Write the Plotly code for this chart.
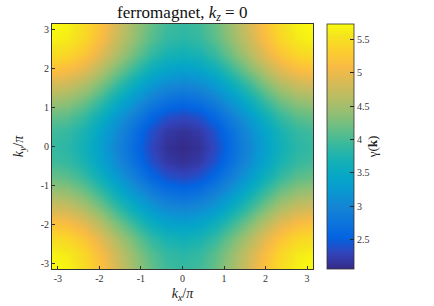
import plotly.graph_objects as go

# grid coordinates (radians)
kx = [-3.1416, -2.7489, -2.3562, -1.9635, -1.5708, -1.1781, -0.7854, -0.3927, 0.0,
      0.3927, 0.7854, 1.1781, 1.5708, 1.9635, 2.3562, 2.7489, 3.1416]
ky = [-3.1416, -2.7489, -2.3562, -1.9635, -1.5708, -1.1781, -0.7854, -0.3927, 0.0,
      0.3927, 0.7854, 1.1781, 1.5708, 1.9635, 2.3562, 2.7489, 3.1416]

# gamma(k) values (rows = ky, cols = kx)
gamma = [
    [5.74, 5.67, 5.47, 5.17, 4.82, 4.47, 4.17, 3.97, 3.90, 3.97, 4.17, 4.47, 4.82, 5.17, 5.47, 5.67, 5.74],
    [5.67, 5.60, 5.40, 5.10, 4.75, 4.40, 4.10, 3.90, 3.83, 3.90, 4.10, 4.40, 4.75, 5.10, 5.40, 5.60, 5.67],
    [5.47, 5.40, 5.20, 4.90, 4.55, 4.20, 3.90, 3.70, 3.63, 3.70, 3.90, 4.20, 4.55, 4.90, 5.20, 5.40, 5.47],
    [5.17, 5.10, 4.90, 4.60, 4.25, 3.90, 3.60, 3.40, 3.33, 3.40, 3.60, 3.90, 4.25, 4.60, 4.90, 5.10, 5.17],
    [4.82, 4.75, 4.55, 4.25, 3.90, 3.55, 3.25, 3.05, 2.98, 3.05, 3.25, 3.55, 3.90, 4.25, 4.55, 4.75, 4.82],
    [4.47, 4.40, 4.20, 3.90, 3.55, 3.20, 2.90, 2.70, 2.63, 2.70, 2.90, 3.20, 3.55, 3.90, 4.20, 4.40, 4.47],
    [4.17, 4.10, 3.90, 3.60, 3.25, 2.90, 2.60, 2.40, 2.33, 2.40, 2.60, 2.90, 3.25, 3.60, 3.90, 4.10, 4.17],
    [3.97, 3.90, 3.70, 3.40, 3.05, 2.70, 2.40, 2.20, 2.13, 2.20, 2.40, 2.70, 3.05, 3.40, 3.70, 3.90, 3.97],
    [3.90, 3.83, 3.63, 3.33, 2.98, 2.63, 2.33, 2.13, 2.06, 2.13, 2.33, 2.63, 2.98, 3.33, 3.63, 3.83, 3.90],
    [3.97, 3.90, 3.70, 3.40, 3.05, 2.70, 2.40, 2.20, 2.13, 2.20, 2.40, 2.70, 3.05, 3.40, 3.70, 3.90, 3.97],
    [4.17, 4.10, 3.90, 3.60, 3.25, 2.90, 2.60, 2.40, 2.33, 2.40, 2.60, 2.90, 3.25, 3.60, 3.90, 4.10, 4.17],
    [4.47, 4.40, 4.20, 3.90, 3.55, 3.20, 2.90, 2.70, 2.63, 2.70, 2.90, 3.20, 3.55, 3.90, 4.20, 4.40, 4.47],
    [4.82, 4.75, 4.55, 4.25, 3.90, 3.55, 3.25, 3.05, 2.98, 3.05, 3.25, 3.55, 3.90, 4.25, 4.55, 4.75, 4.82],
    [5.17, 5.10, 4.90, 4.60, 4.25, 3.90, 3.60, 3.40, 3.33, 3.40, 3.60, 3.90, 4.25, 4.60, 4.90, 5.10, 5.17],
    [5.47, 5.40, 5.20, 4.90, 4.55, 4.20, 3.90, 3.70, 3.63, 3.70, 3.90, 4.20, 4.55, 4.90, 5.20, 5.40, 5.47],
    [5.67, 5.60, 5.40, 5.10, 4.75, 4.40, 4.10, 3.90, 3.83, 3.90, 4.10, 4.40, 4.75, 5.10, 5.40, 5.60, 5.67],
    [5.74, 5.67, 5.47, 5.17, 4.82, 4.47, 4.17, 3.97, 3.90, 3.97, 4.17, 4.47, 4.82, 5.17, 5.47, 5.67, 5.74],
]

axis_ticks = [-3, -2, -1, 0, 1, 2, 3]
axis_labels = ["-3", "-2", "-1", "0", "1", "2", "3"]
cbar_ticks = [2.5, 3, 3.5, 4, 4.5, 5, 5.5]
cbar_labels = ["2.5", "3", "3.5", "4", "4.5", "5", "5.5"]

parula = [
    [0.0, "rgb(53,42,135)"], [0.0635, "rgb(50,67,186)"], [0.127, "rgb(3,99,225)"],
    [0.1905, "rgb(13,117,220)"], [0.254, "rgb(20,133,212)"], [0.3175, "rgb(9,152,209)"],
    [0.381, "rgb(6,167,198)"], [0.444, "rgb(21,177,180)"], [0.508, "rgb(56,185,158)"],
    [0.571, "rgb(101,190,134)"], [0.635, "rgb(146,191,115)"], [0.698, "rgb(183,189,100)"],
    [0.762, "rgb(217,186,86)"], [0.825, "rgb(248,187,68)"], [0.889, "rgb(252,206,46)"],
    [0.952, "rgb(245,228,29)"], [1.0, "rgb(249,251,14)"],
]

serif = "Liberation Serif, DejaVu Serif, serif"

fig = go.Figure(go.Heatmap(
    x=kx, y=ky, z=gamma, zsmooth="best", colorscale=parula,
    zmin=2.055, zmax=5.735, hoverinfo="skip",
    colorbar=dict(
        thickness=27, thicknessmode="pixels", len=1, lenmode="fraction",
        x=1.054, xanchor="left", y=0.5, yanchor="middle", xpad=0, ypad=0,
        outlinewidth=0.8, outlinecolor="#333",
        ticks="inside", ticklen=4, tickcolor="#222",
        tickvals=cbar_ticks, ticktext=cbar_labels,
        tickfont=dict(family=serif, size=10, color="#333"),
        title=dict(text="γ(<b>k</b>)", side="right",
                   font=dict(family=serif, size=13, color="#222")),
    ),
))

fig.update_layout(
    width=434, height=306,
    margin=dict(l=52, r=121, t=24, b=37, autoexpand=False),
    paper_bgcolor="white", plot_bgcolor="white",
    title=dict(text="ferromagnet, <i>k<sub>z</sub></i> = 0", x=0.42, xanchor="center",
               y=0.962, yanchor="middle", font=dict(family=serif, size=17, color="#111")),
    xaxis=dict(range=[-3.1416, 3.1416], tickvals=axis_ticks, ticktext=axis_labels,
               ticks="inside", ticklen=3, automargin=False,
               tickcolor="#333", showline=True, linecolor="#333", linewidth=0.8, mirror=True,
               showgrid=False, zeroline=False,
               tickfont=dict(family=serif, size=10, color="#333"),
               title=dict(text="<i>k<sub>x</sub></i>/<i>π</i>", standoff=5,
                          font=dict(family=serif, size=14, color="#222"))),
    yaxis=dict(range=[-3.1416, 3.1416], tickvals=axis_ticks, ticktext=axis_labels,
               ticks="inside", ticklen=3, automargin=False,
               tickcolor="#333", showline=True, linecolor="#333", linewidth=0.8, mirror=True,
               showgrid=False, zeroline=False,
               tickfont=dict(family=serif, size=10, color="#333"),
               title=dict(text="<i>k<sub>y</sub></i>/<i>π</i>", standoff=13,
                          font=dict(family=serif, size=14, color="#222"))),
)

fig.write_html("out.html", config={"displayModeBar": False},
               post_script="document.body.style.margin='0';")
